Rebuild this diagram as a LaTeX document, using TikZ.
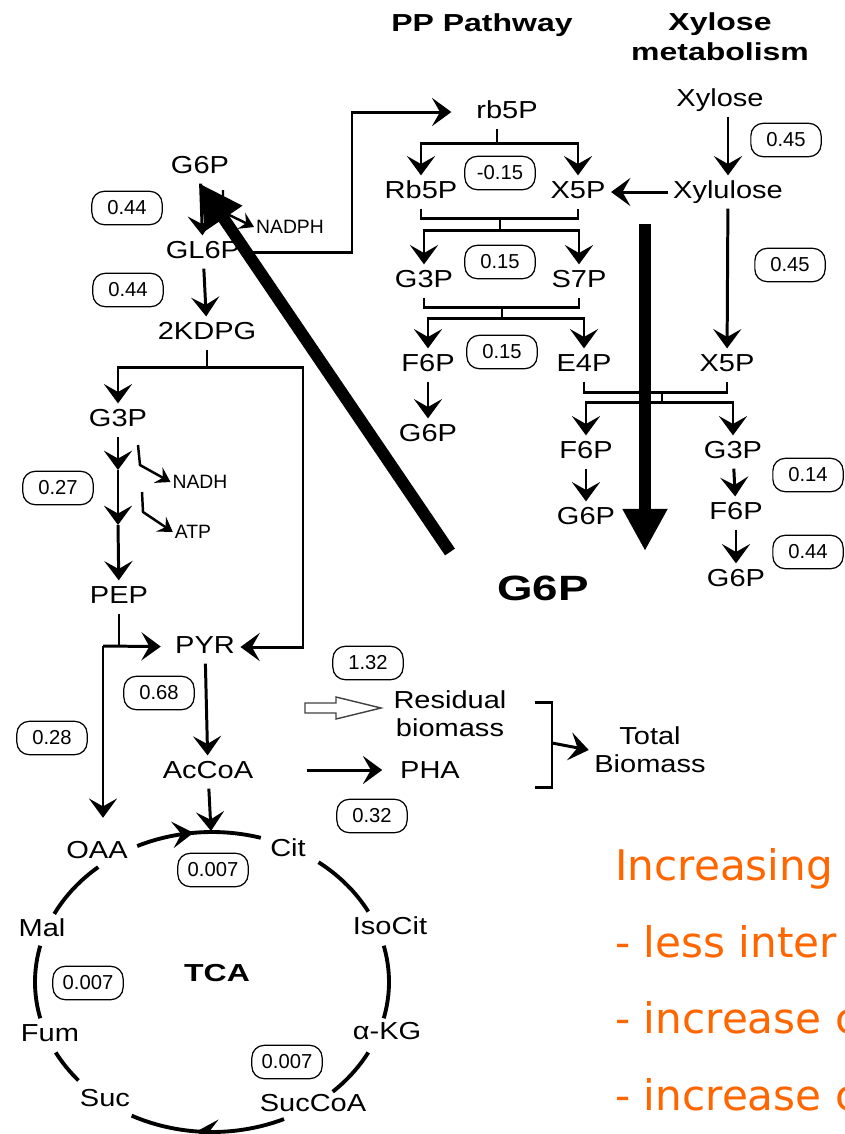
\documentclass[tikz,border=0pt]{standalone}
\usepackage{fontspec}
\setmainfont{Liberation Sans}
\newfontfamily\labfont[FakeStretch=1.18]{Liberation Sans}
\newfontfamily\ttlfont[FakeStretch=1.3]{Liberation Sans}
\newfontfamily\notefont{DejaVu Sans}
\usetikzlibrary{arrows.meta,positioning,calc}
\definecolor{noteorange}{RGB}{255,102,0}

\begin{document}
\begin{tikzpicture}[x=0.02cm,y=-0.02cm,
  every node/.style={inner sep=3pt},
  met/.style={font=\labfont\fontsize{14}{16}\selectfont,text height=10pt,text depth=2.5pt},
  prod/.style={font=\labfont\fontsize{14}{16}\selectfont,align=center},
  ttl/.style={font=\ttlfont\bfseries\fontsize{14}{17}\selectfont,align=center},
  cof/.style={font=\fontsize{11}{12}\selectfont,inner sep=1pt},
  flux/.style={draw,rounded corners=7pt,line width=0.7pt,minimum width=40pt,
    minimum height=19pt,inner sep=1pt,font=\fontsize{11.5}{13}\selectfont},
  note/.style={font=\notefont\fontsize{24}{28}\selectfont,text=noteorange,
    anchor=base west,inner sep=0pt},
  rxn/.style={line width=1.7pt,-{Stealth[length=11pt,width=16pt,inset=4.5pt]}},
  link/.style={line width=1.7pt},
  cofarr/.style={line width=1.4pt,-{Stealth[length=8pt,width=10pt,inset=3pt]}},
  ring/.style={line width=2.2pt},
  ringarr/.style={ring,-{Stealth[length=12pt,width=15pt,inset=5pt]}},
  bigarrow/.style={line width=6.8pt,-{Triangle[length=24pt,width=24pt]}}]

  \useasboundingbox (0,0) rectangle (845,1134);
  \clip (0,0) rectangle (845,1134);

  % Titles
  \node[ttl] (ttlpp) at (482,25) {PP Pathway};
  \node[ttl] (ttlxyl) at (720,37) {Xylose\\metabolism};

  % ED pathway
  \node[met] (g6pa) at (200,167) {G6P};
  \node[met] (gl6p) at (203,252) {GL6P};
  \node[met] (kdpg) at (207,333) {2KDPG};
  \node[met] (g3pa) at (118,420) {G3P};
  \node[met] (pep) at (119,597) {PEP};
  \node[met] (pyr) at (205,647) {PYR};
  \node[met] (accoa) at (208,772) {AcCoA};
  \node[cof] (nadph) at (290,227) {NADPH};
  \node[cof] (nadh) at (200,482) {NADH};
  \node[cof] (atp) at (193,532) {ATP};

  % PP pathway
  \node[met] (rb5p) at (507,112) {rb5P};
  \node[met] (rb5pb) at (421,192) {Rb5P};
  \node[met] (x5pa) at (578,192) {X5P};
  \node[met] (g3pb) at (424,281) {G3P};
  \node[met] (s7p) at (579,281) {S7P};
  \node[met] (f6pb) at (428,365) {F6P};
  \node[met] (e4p) at (584,365) {E4P};
  \node[met] (g6pb) at (428,435) {G6P};

  % Xylose metabolism
  \node[met] (xylo) at (720,100) {Xylose};
  \node[met] (xylu) at (728,192) {Xylulose};
  \node[met] (x5pb) at (727,365) {X5P};
  \node[met] (f6pc) at (586,452) {F6P};
  \node[met] (g6pc) at (586,518) {G6P};
  \node[met] (g3pc) at (733,452) {G3P};
  \node[met] (f6pd) at (736,513) {F6P};
  \node[met] (g6pd) at (736,580) {G6P};

  % Products
  \node[prod] (resid) at (450,714) {Residual\\biomass};
  \node[prod] (pha) at (430,770) {PHA};
  \node[prod] (total) at (650,750) {Total\\Biomass};

  % TCA cycle
  \foreach \n/\x/\y/\t in {oaa/97/852/OAA, cit/288/850/Cit, isocit/390/928/IsoCit,
      mal/42/930/Mal, akg/387/1033/α-KG, fum/50/1035/Fum, suc/105/1100/Suc,
      succoa/313/1105/SucCoA}
    \node[met] (\n) at (\x,\y) {\t};
  \node[ttl] (tca) at (217,973) {TCA};
  \coordinate (tcatop) at (211,831);
  \foreach \a/\b in {262/286, 307/332, -14/14, 28/47, 92/117, 139/152, 166/194, 207/230}
    \draw[ring] plot[domain=\a:\b,samples=24] ({212+177*cos(\x)},{982+150*sin(\x)});
  \draw[ringarr] plot[domain=245:264,samples=24] ({212+177*cos(\x)},{982+150*sin(\x)});
  \draw[ringarr] plot[domain=66:95,samples=24] ({212+177*cos(\x)},{982+150*sin(\x)});

  % Flux values
  \foreach \n/\x/\y/\v in {1/127/208/0.44, 2/128/290/0.44, 3/58/488/0.27, 4/159/693/0.68,
      5/52/738/0.28, 6/500/173/-0.15, 7/500/262/0.15, 8/502/352/0.15, 9/786/140/0.45,
      10/790/265/0.45, 11/808/475/0.14, 12/808/552/0.44, 13/368/663/1.32,
      14/372/816/0.32, 15/213/870/0.007, 16/88/983/0.007, 17/287/1062/0.007}
    \node[flux] (f\n) at (\x,\y) {\v};

  % ED connectors
  \draw[rxn] (g6pa) -- (gl6p);
  \coordinate (nadph0) at (223,190);
  \draw[cofarr] (nadph0) -- ++(0,22) -- (nadph.west);
  \draw[rxn] (gl6p) -- (kdpg);
  \coordinate (gl6pup) at (352,112);
  \draw[rxn,shorten >=11pt] (gl6p.east) -| (gl6pup) -- (rb5p.west);
  \coordinate (kd) at (207,367);
  \coordinate (kdr) at (303,647);
  \draw[link] (kdpg) -- (kd);
  \draw[rxn] (kd) -| (g3pa);
  \draw[rxn] (kd) -| (kdr) -- (pyr);
  \coordinate (gl1) at (118,470);
  \coordinate (gl2) at (118,525);
  \draw[rxn] (g3pa) -- (gl1);
  \draw[rxn] (gl1) -- (gl2);
  \draw[rxn] (gl2) -- (pep);
  \coordinate (nadh0) at (138,445);
  \coordinate (atp0) at (142,492);
  \draw[cofarr] (nadh0) -- ++(2,20) -- (nadh.west);
  \draw[cofarr] (atp0) -- ++(1,20) -- (atp.west);
  \coordinate (pp1) at (119,646);
  \coordinate (pp2) at (103,646);
  \draw[link] (pep) -- (pp1);
  \draw[rxn,shorten >=5pt] (pp2) -- (pyr);
  \draw[rxn,shorten >=10pt] (pp2) -- (pp2 |- oaa.north);
  \draw[rxn] (pyr) -- (accoa);
  \draw[rxn] (accoa) -- (tcatop);

  % Biomass
  \draw[line width=0.8pt,draw=black!75] (305,703) -- (336,703) -- (336,697) -- (381,708)
    -- (336,719) -- (336,713) -- (305,713) -- cycle;
  \coordinate (phain) at (307,770);
  \draw[rxn,shorten >=7pt] (phain) -- (pha);
  \coordinate (brt) at (535,702);
  \coordinate (brb) at (535,787);
  \coordinate (brm) at (552,743);
  \draw[link] (brt) -| (brm) |- (brb);
  \draw[rxn] (brm) -- (total.west);

  % PP connectors
  \coordinate (r1) at (497,143);
  \draw[link] (r1 |- rb5p.south) -- (r1);
  \draw[rxn] (r1) -| (rb5pb);
  \draw[rxn] (r1) -| (x5pa);
  \coordinate (r2) at (500,218);
  \coordinate (r3) at (500,230);
  \draw[link] (rb5pb) |- (r2) -| (x5pa);
  \draw[link] (r2) -- (r3);
  \draw[rxn] (r3) -| (g3pb);
  \draw[rxn] (r3) -| (s7p);
  \coordinate (r4) at (502,307);
  \coordinate (r5) at (502,318);
  \draw[link] (g3pb) |- (r4) -| (s7p);
  \draw[link] (r4) -- (r5);
  \draw[rxn] (r5) -| (f6pb);
  \draw[rxn] (r5) -| (e4p);
  \draw[rxn] (f6pb) -- (g6pb);

  % Xylose connectors
  \draw[rxn] (xylo.south -| xylu) -- (xylu);
  \draw[rxn] (xylu) -- (x5pa);
  \draw[rxn] (xylu) -- (x5pb);
  \coordinate (r6) at (662,392);
  \coordinate (r7) at (662,402);
  \draw[link] (e4p) |- (r6) -| (x5pb);
  \draw[link] (r6) -- (r7);
  \draw[rxn] (r7) -| (f6pc);
  \draw[rxn] (r7) -| (g3pc);
  \draw[rxn] (f6pc) -- (g6pc);
  \draw[rxn] (g3pc) -- (f6pd);
  \draw[rxn] (f6pd) -- (g6pd);

  % Big G6P arrows
  \coordinate (bigtail) at (450,552);
  \coordinate (bigtop) at (645,224);
  \coordinate (bigtip) at (645,551);
  \draw[bigarrow] (bigtail) -- (g6pa.south);
  \draw[bigarrow] (bigtop) -- (bigtip);
  \node[font=\ttlfont\bfseries\fontsize{20}{24}\selectfont] (g6pbig) at (543,588) {G6P};

  % Note
  \node[note] (inc) at (615,880) {Increasing};
  \node[note] (less) at (615,957) {- less inter};
  \node[note] (incA) at (615,1033) {- increase c};
  \node[note] (incB) at (615,1110) {- increase c};
\end{tikzpicture}
\end{document}
